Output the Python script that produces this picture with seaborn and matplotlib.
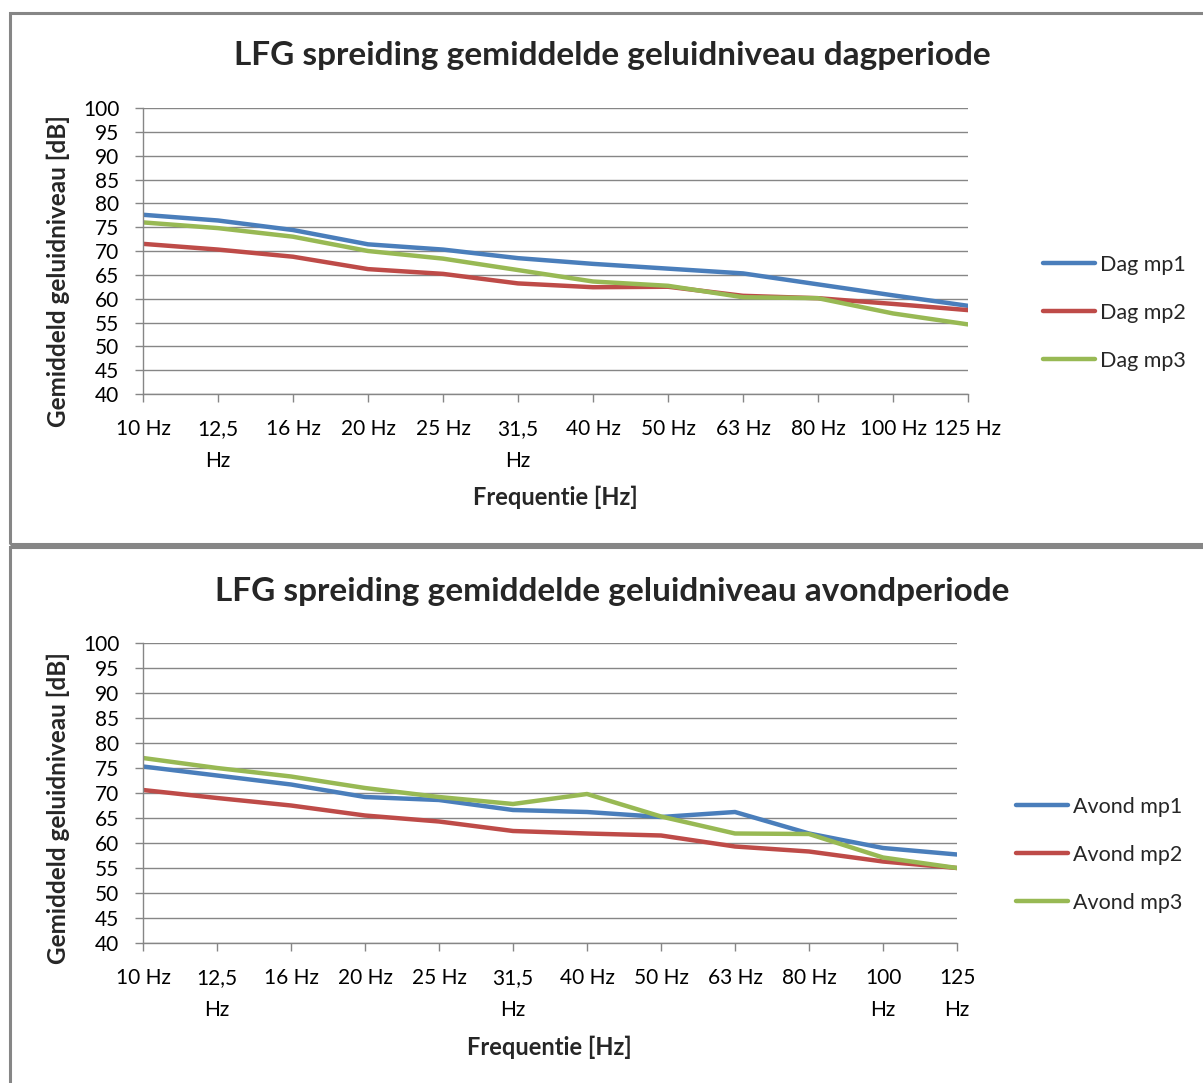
import matplotlib
matplotlib.use("Agg")
import matplotlib.pyplot as plt
from matplotlib.patches import Rectangle
import seaborn as sns
import pandas as pd

# Frequency bands (categories on the x axis)
freqs = ["10 Hz", "12,5 Hz", "16 Hz", "20 Hz", "25 Hz", "31,5 Hz",
         "40 Hz", "50 Hz", "63 Hz", "80 Hz", "100 Hz", "125 Hz"]
tick_labels_dag = ["10 Hz", "12,5\nHz", "16 Hz", "20 Hz", "25 Hz", "31,5\nHz",
                   "40 Hz", "50 Hz", "63 Hz", "80 Hz", "100 Hz", "125 Hz"]
tick_labels_avond = ["10 Hz", "12,5\nHz", "16 Hz", "20 Hz", "25 Hz", "31,5\nHz",
                     "40 Hz", "50 Hz", "63 Hz", "80 Hz", "100\nHz", "125\nHz"]

# Mean sound levels in dB, day period
dag_mp1 = [77.6, 76.4, 74.4, 71.4, 70.3, 68.5, 67.3, 66.3, 65.3, 63.0, 60.7, 58.5]
dag_mp2 = [71.5, 70.3, 68.8, 66.2, 65.2, 63.2, 62.4, 62.5, 60.6, 60.1, 58.9, 57.6]
dag_mp3 = [76.0, 74.8, 73.0, 70.0, 68.4, 66.0, 63.6, 62.7, 60.3, 60.1, 56.9, 54.6]

# Mean sound levels in dB, evening period
avond_mp1 = [75.3, 73.5, 71.7, 69.2, 68.6, 66.6, 66.2, 65.2, 66.2, 61.9, 59.0, 57.7]
avond_mp2 = [70.6, 69.0, 67.5, 65.5, 64.3, 62.4, 61.9, 61.5, 59.3, 58.3, 56.3, 55.0]
avond_mp3 = [77.0, 75.0, 73.3, 71.0, 69.2, 67.8, 69.8, 65.3, 61.9, 61.8, 57.1, 55.0]

yticks = list(range(40, 101, 5))

palette = ["#4A7EBB", "#BE4B48", "#98B954"]
grid_col = "#868686"

sns.set_theme(style="white")
plt.rcParams["font.family"] = ["Lato", "DejaVu Sans"]

W, H = 1203, 1083
fig = plt.figure(figsize=(W / 100, H / 100), dpi=100)


def px_axes(x0, y0, x1, y1):
    return fig.add_axes([x0 / W, 1 - y1 / H, (x1 - x0) / W, (y1 - y0) / H])


def long_frame(names, series):
    rows = []
    for name, vals in zip(names, series):
        for i, v in enumerate(vals):
            rows.append({"pos": i, "freq": freqs[i], "serie": name, "dB": v})
    return pd.DataFrame(rows)


def draw_panel(ax, names, series, ticklabels, title, title_y,
               ylab_pos, xlab_pos, leg_anchor):
    df = long_frame(names, series)
    sns.lineplot(data=df, x="pos", y="dB", hue="serie", palette=palette,
                 linewidth=3.2, ax=ax, legend=True, sort=False)
    ax.set_xlim(0, len(freqs) - 1)
    ax.set_ylim(40, 100)
    ax.set_yticks(yticks)
    ax.set_yticklabels([str(t) for t in yticks])
    ax.set_xticks(range(len(freqs)))
    ax.set_xticklabels(ticklabels, linespacing=1.75)
    ax.grid(axis="y", color=grid_col, linewidth=1.0)
    ax.set_axisbelow(True)
    for s in ["top", "right"]:
        ax.spines[s].set_visible(False)
    for s in ["left", "bottom"]:
        ax.spines[s].set_color(grid_col)
        ax.spines[s].set_linewidth(1.0)
    ax.tick_params(axis="both", which="major", direction="out", length=6,
                   width=1.0, color=grid_col, labelsize=15,
                   labelcolor="#000000", left=True, bottom=True)
    ax.tick_params(axis="y", pad=11)
    ax.tick_params(axis="x", pad=12)
    ax.set_xlabel("Frequentie [Hz]", fontsize=17, fontweight="bold",
                  va="center")
    ax.xaxis.set_label_coords(*xlab_pos)
    ax.set_ylabel("Gemiddeld geluidniveau [dB]", fontsize=17.5,
                  fontweight="bold", va="center")
    ax.yaxis.set_label_coords(*ylab_pos)
    handles, labels = ax.get_legend_handles_labels()
    ax.legend(handles, labels, loc="center left", bbox_to_anchor=leg_anchor,
              frameon=False, fontsize=15.5, handlelength=2.45,
              handletextpad=0.2, labelspacing=1.3, borderaxespad=0)
    for line in ax.get_legend().get_lines():
        line.set_linewidth(3.2)
    fig.text(612 / W, 1 - title_y / H, title, ha="center", va="center",
             fontsize=24, fontweight="bold")


# Panel frames
fig.patches.append(Rectangle((10 / W, 1 - 544 / H), (W + 20) / W, 531 / H,
                             transform=fig.transFigure, fill=False,
                             edgecolor=grid_col, linewidth=2.2))
fig.patches.append(Rectangle((10 / W, -0.05), (W + 20) / W, 1 - 547 / H + 0.05,
                             transform=fig.transFigure, fill=False,
                             edgecolor=grid_col, linewidth=2.2))

ax1 = px_axes(143, 108, 968, 394)
draw_panel(ax1, ["Dag mp1", "Dag mp2", "Dag mp3"],
           [dag_mp1, dag_mp2, dag_mp3], tick_labels_dag,
           "LFG spreiding gemiddelde geluidniveau dagperiode", 56,
           ((58 - 143) / 825, (394 - 271) / 286),
           ((555 - 143) / 825, (394 - 497) / 286),
           ((1034 - 143) / 825, (394 - 313) / 286))

ax2 = px_axes(143, 643, 957, 943)
draw_panel(ax2, ["Avond mp1", "Avond mp2", "Avond mp3"],
           [avond_mp1, avond_mp2, avond_mp3], tick_labels_avond,
           "LFG spreiding gemiddelde geluidniveau avondperiode", 591,
           ((58 - 143) / 814, (943 - 808) / 300),
           ((549 - 143) / 814, (943 - 1047) / 300),
           ((1007 - 143) / 814, (943 - 855) / 300))

fig.savefig("out.png", dpi=100, facecolor="white")
